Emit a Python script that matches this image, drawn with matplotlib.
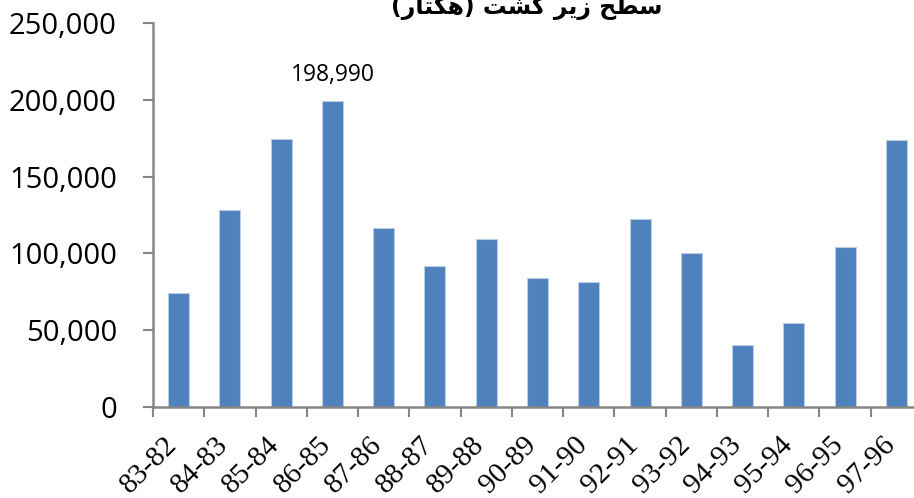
import matplotlib
matplotlib.use("Agg")
import matplotlib.pyplot as plt
import numpy as np
from matplotlib.ticker import FuncFormatter, FixedLocator

categories = ["83-82", "84-83", "85-84", "86-85", "87-86", "88-87", "89-88", "90-89",
              "91-90", "92-91", "93-92", "94-93", "95-94", "96-95", "97-96"]
values = [74000, 128300, 174500, 198990, 116300, 91800, 109400, 84000,
          81400, 122600, 100100, 40400, 54500, 104200, 173800]
labelled_index = 3

# Persian title "سطح زیر کشت (هکتار)" in visual (shaped, left-to-right) order
title_text = "(\uFEAD\uFE8E\uFE98\uFB91\uFEEB) \uFE96\uFEB8\uFB90 \uFEAE\uFBFE\uFEAF \uFEA2\uFEC4\uFEB3"

W, H = 914, 498
fig = plt.figure(figsize=(W / 100, H / 100), dpi=100)
left, right, bottom, top = 153, 922, 407, 23
ax = fig.add_axes([left / W, 1 - bottom / H, (right - left) / W, (bottom - top) / H])

x = np.arange(len(categories))
ax.bar(x, values, width=0.41, color="#4F81BD", edgecolor="#B9CDE5", linewidth=0.8, zorder=2)

ax.set_xlim(-0.5, len(categories) - 0.5)
ax.set_ylim(0, 250000)
ax.set_yticks(np.arange(0, 250001, 50000))
ax.yaxis.set_major_formatter(FuncFormatter(lambda v, p: f"{int(v):,}"))

grey = "#868686"
for s in ["top", "right"]:
    ax.spines[s].set_visible(False)
for s in ["left", "bottom"]:
    ax.spines[s].set_color(grey)
    ax.spines[s].set_linewidth(1.8)

ax.tick_params(axis="y", direction="out", length=7, width=1.5, color=grey,
               pad=19, labelsize=21, labelcolor="black")
for lab in ax.get_yticklabels():
    lab.set_fontfamily("Open Sans")

# boundaries as major ticks, labels on minor ticks at centres
ax.xaxis.set_major_locator(FixedLocator(np.arange(-0.5, len(categories) + 0.5, 1)))
ax.xaxis.set_major_formatter(FuncFormatter(lambda v, p: ""))
ax.xaxis.set_minor_locator(FixedLocator(x + 0.07))
ax.set_xticklabels(categories, minor=True)
ax.tick_params(axis="x", which="major", direction="out", length=7, width=1.5, color=grey)
ax.tick_params(axis="x", which="minor", length=0, pad=18)
for lab in ax.get_xticklabels(minor=True):
    lab.set_rotation(45)
    lab.set_ha("right")
    lab.set_va("top")
    lab.set_fontfamily("Liberation Serif")
    lab.set_fontsize(21)

ax.annotate(f"{values[labelled_index]:,}", (x[labelled_index], values[labelled_index]),
            xytext=(0, 10), textcoords="offset points", ha="center", va="bottom",
            fontsize=16.5, family="Open Sans")

fig.text(527 / W, 1 - 14 / H, title_text, ha="center", va="baseline",
         fontsize=17, fontweight="bold", family="DejaVu Sans")

fig.savefig("out.png", dpi=100)
